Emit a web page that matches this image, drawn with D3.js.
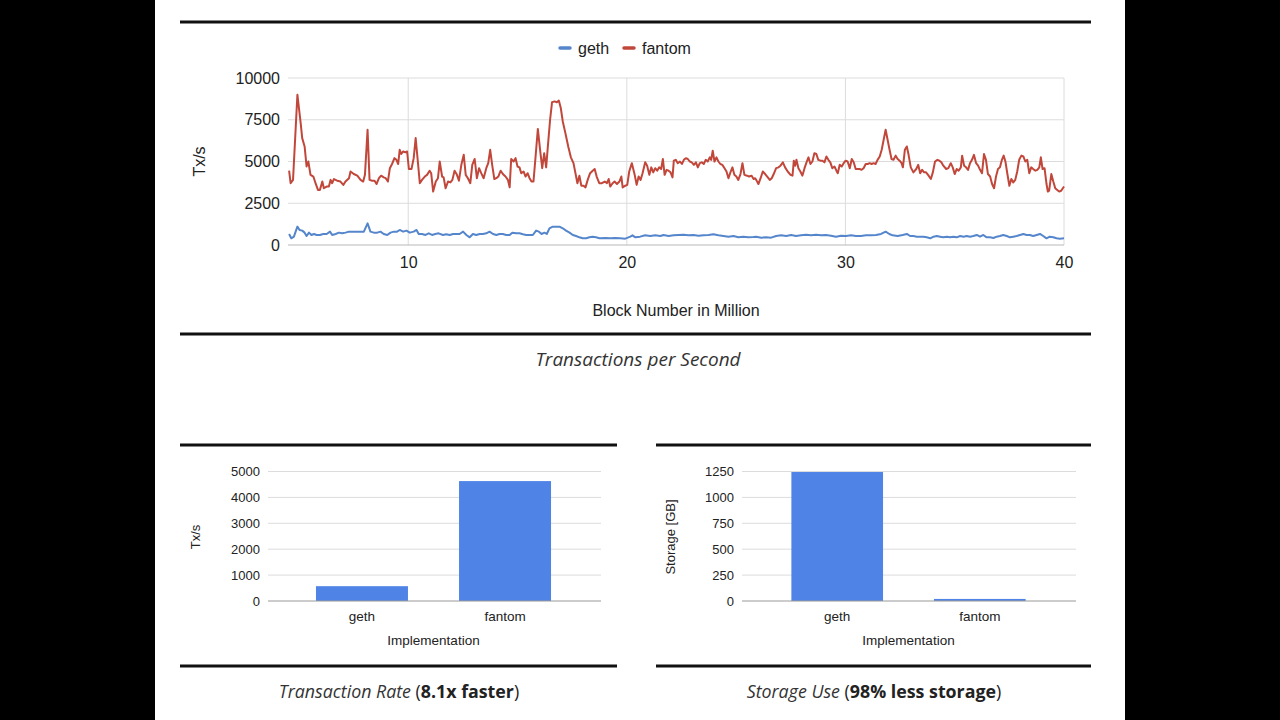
<!DOCTYPE html>
<html>
<head>
<meta charset="utf-8">
<script src="https://cdn.jsdelivr.net/npm/d3@7"></script>
<style>
  html, body { margin: 0; padding: 0; background: #000; }
  svg { display: block; }
</style>
</head>
<body>
<svg id="chart" width="1280" height="720"></svg>
<script>
// ---------------- DATA ----------------
const seriesNames = ["geth", "fantom"];
const xTicks = [10, 20, 30, 40];
const yTicksTop = [0, 2500, 5000, 7500, 10000];

// [block number in million, Tx/s]
const gethTx = [
[4.55,660],[4.65,400],[4.77,500],[4.93,1100],[5.03,900],[5.15,860],[5.26,740],[5.35,540],[5.46,740],[5.57,600],[5.69,660],[5.81,600],[5.96,600],[6.11,660],[6.27,660],[6.42,800],[6.52,600],[6.68,660],[6.83,740],[6.98,700],[7.13,740],[7.29,800],[7.51,800],[7.74,800],[7.97,800],[8.14,1300],[8.27,800],[8.43,740],[8.58,740],[8.73,800],[8.88,660],[9.04,600],[9.19,740],[9.34,800],[9.49,800],[9.61,900],[9.77,800],[9.92,860],[10.07,740],[10.25,800],[10.38,900],[10.48,660],[10.63,660],[10.79,600],[10.94,700],[11.09,600],[11.24,660],[11.39,700],
[11.59,600],[11.74,640],[11.90,600],[12.05,660],[12.20,660],[12.35,660],[12.51,800],[12.66,600],[12.81,460],[12.96,660],[13.11,600],[13.27,660],[13.42,660],[13.57,700],[13.72,800],[13.88,660],[14.03,600],[14.18,660],[14.33,660],[14.48,600],[14.64,600],[14.76,740],[14.94,700],[15.09,700],[15.25,640],[15.40,600],[15.55,600],[15.70,600],[15.85,860],[15.98,800],[16.10,660],[16.23,740],[16.34,660],[16.46,1000],[16.61,1100],[16.77,1100],[16.92,1100],[17.07,1000],[17.22,860],[17.38,740],[17.53,600],[17.68,540],[17.83,460],[17.98,400],[18.14,400],[18.29,460],[18.44,500],[18.59,460],[18.75,400],
[19.02,420],[19.24,400],[19.47,420],[19.70,400],[19.93,380],[20.16,500],[20.26,580],[20.39,460],[20.61,500],[20.84,580],[21.07,540],[21.30,580],[21.53,540],[21.68,600],[21.91,540],[22.14,580],[22.37,600],[22.59,620],[22.82,580],[23.05,600],[23.28,560],[23.51,580],[23.74,600],[23.96,640],[24.19,580],[24.42,540],[24.65,500],[24.88,540],[25.10,460],[25.33,500],[25.56,460],[25.79,480],
[25.92,500],[26.15,440],[26.37,460],[26.60,440],[26.83,540],[27.06,580],[27.29,540],[27.52,600],[27.74,540],[27.97,580],[28.20,620],[28.43,580],[28.66,620],[28.89,580],[29.11,600],[29.34,560],[29.57,500],[29.80,560],[30.03,540],[30.26,580],[30.48,540],[30.71,540],[30.94,580],[31.17,580],[31.40,600],[31.63,660],[31.84,800],[32.01,660],[32.16,580],[32.39,540],[32.62,600],
[32.81,660],[32.96,540],[33.11,540],[33.27,500],[33.42,500],[33.57,500],[33.72,460],[33.88,400],[34.03,500],[34.18,540],[34.33,500],[34.48,460],[34.64,500],[34.79,460],[34.94,500],[35.09,460],[35.25,540],[35.40,500],[35.55,540],[35.70,500],[35.85,540],[36.01,600],[36.16,500],[36.31,600],[36.46,460],[36.62,460],[36.77,420],[36.92,500],[37.07,540],[37.22,600],[37.38,540],[37.53,460],[37.68,500],[37.83,540],[37.99,600],[38.14,660],[38.29,600],[38.44,600],[38.59,540],[38.75,600],[38.90,660],[39.05,540],[39.20,400],[39.35,500],[39.51,460],[39.66,400],[39.81,380],[40.00,400]
];

const fantomTx = [
[4.55,4460],[4.62,3700],[4.73,3900],[4.93,9000],[5.08,7300],[5.15,6400],[5.26,5900],[5.35,4700],[5.43,5000],[5.53,4200],[5.66,4100],[5.76,3700],[5.87,3300],[5.96,3300],[6.07,3800],[6.14,3400],[6.27,3500],[6.37,3500],[6.45,3900],[6.52,3700],[6.60,3950],[6.75,3850],[6.90,3800],[7.03,3600],[7.13,3800],[7.29,4000],[7.36,4400],[7.51,4250],[7.67,4150],[7.82,3900],[7.94,3800],[8.02,4200],[8.14,6900],[8.23,3900],[8.35,3850],[8.46,3850],[8.55,3650],[8.66,4000],[8.76,4150],[8.88,4050],[8.97,4000],[9.07,3800],[9.16,4600],[9.26,4850],[9.37,5200],[9.46,5100],[9.54,4850],[9.61,5700],[9.68,5450],[9.77,5600],[9.87,5550],[9.95,5600],[10.03,4550],[10.15,4550],[10.25,5200],[10.34,6400],[10.44,5000],[10.53,3700],[10.63,3900],[10.76,4100],[10.86,4200],[10.98,4450],[11.05,4300],[11.14,3200],[11.26,3800],[11.36,4000],[11.44,5000],[11.55,4100],[11.62,4050],
[11.71,3400],[11.82,3800],[11.93,3750],[12.02,3900],[12.12,4450],[12.23,4200],[12.32,3850],[12.43,4800],[12.54,5400],[12.63,4200],[12.73,4000],[12.84,3700],[12.93,4800],[13.04,5150],[13.14,4000],[13.24,4600],[13.34,4300],[13.45,4000],[13.57,4600],[13.66,4900],[13.75,5700],[13.84,4800],[13.94,3950],[14.03,4000],[14.12,4100],[14.23,4450],[14.33,4250],[14.45,4100],[14.56,3900],[14.64,3450],[14.71,5150],[14.82,5000],[14.91,5200],[15.00,4700],[15.09,4650],[15.17,4300],[15.28,4400],[15.37,4100],[15.46,4300],[15.55,4000],[15.64,3800],[15.73,3800],[15.82,5200],[15.93,6950],[16.04,5600],[16.13,4600],[16.22,5500],[16.31,4650],[16.40,6100],[16.49,7500],[16.58,8550],[16.69,8600],[16.80,8550],[16.89,8650],[16.98,8200],[17.07,7400],[17.19,6700],[17.32,5900],[17.44,5250],[17.56,4900],[17.68,4100],[17.74,3700],[17.83,4150],[17.92,3550],[18.02,3550],[18.11,3450],[18.21,3900],[18.32,4300],[18.44,4450],[18.53,4550],[18.62,4100],[18.74,3700],
[18.86,3700],[18.99,3800],[19.09,3700],[19.17,3950],[19.24,3500],[19.35,3700],[19.44,3800],[19.55,3650],[19.66,3800],[19.75,4100],[19.81,3450],[19.93,3550],[20.02,3600],[20.11,4400],[20.23,4900],[20.36,4200],[20.45,3600],[20.54,4100],[20.63,3900],[20.72,4300],[20.84,4950],[20.93,4750],[21.03,4200],[21.12,4650],[21.21,4350],[21.30,4600],[21.39,4450],[21.48,4650],[21.57,4550],[21.65,5150],[21.73,4200],[21.82,4500],[21.91,4450],[22.00,4350],[22.09,4050],[22.15,5050],[22.24,5100],[22.33,4900],[22.43,5000],[22.52,4850],[22.61,5100],[22.70,5200],[22.79,5150],[22.88,5000],[22.97,4950],[23.07,4800],[23.16,4950],[23.25,4650],[23.34,4900],[23.43,4950],[23.52,4850],[23.61,5100],[23.70,5000],[23.80,5250],[23.86,5100],[23.93,5650],[24.01,5000],[24.10,5250],[24.19,5000],[24.28,4850],[24.37,4800],[24.47,4600],[24.56,4400],[24.65,4000],[24.74,4350],[24.83,4650],[24.92,4200],[25.01,4100],[25.10,3900],[25.20,4250],[25.29,4900],[25.38,4200],[25.50,4150],[25.59,4100],[25.71,4150],[25.80,3950],[25.87,4000],
[25.92,3900],[26.02,3650],[26.12,4000],[26.22,4400],[26.33,4250],[26.45,4050],[26.54,3900],[26.63,4000],[26.72,4250],[26.83,4600],[26.94,4650],[27.03,4750],[27.14,4950],[27.24,4650],[27.36,4400],[27.49,4200],[27.58,4150],[27.64,5050],[27.70,4750],[27.76,5100],[27.85,4600],[27.94,4400],[28.03,4150],[28.13,4600],[28.22,4950],[28.31,5250],[28.40,4850],[28.49,5000],[28.58,5500],[28.67,5450],[28.76,5100],[28.86,5050],[28.95,5050],[29.04,4950],[29.13,5300],[29.22,5100],[29.31,4950],[29.40,4600],[29.50,4700],[29.59,4450],[29.65,4300],[29.74,4800],[29.83,4700],[29.92,4900],[30.01,5050],[30.10,5000],[30.20,4600],[30.29,5150],[30.38,4950],[30.47,4550],[30.56,4550],[30.65,4550],[30.74,4500],[30.83,4600],[30.93,4850],[31.02,4850],[31.11,4900],[31.20,4850],[31.29,4900],[31.38,4850],[31.47,5100],[31.57,5300],[31.66,5700],[31.75,6300],[31.84,6900],[31.93,6300],[32.02,5700],[32.11,5150],[32.20,5100],[32.30,5350],[32.39,5150],[32.48,5050],[32.57,4900],[32.63,4650],[32.72,5700],[32.81,5900],
[32.89,5400],[32.99,4650],[33.11,4350],[33.24,4550],[33.33,4800],[33.42,4300],[33.51,4500],[33.60,4350],[33.69,4350],[33.78,4200],[33.91,3950],[34.00,4350],[34.10,5000],[34.21,5100],[34.30,5050],[34.39,4950],[34.48,4750],[34.61,4550],[34.71,4600],[34.82,4900],[34.91,4650],[35.00,4250],[35.09,4550],[35.18,4450],[35.28,4650],[35.34,5350],[35.43,4750],[35.52,4650],[35.61,4500],[35.70,4900],[35.79,5100],[35.88,5400],[35.98,4900],[36.07,4750],[36.16,4500],[36.25,4300],[36.34,5450],[36.43,5100],[36.52,4250],[36.62,4100],[36.71,3650],[36.80,3400],[36.89,4100],[36.98,4550],[37.07,4650],[37.16,5100],[37.24,5350],[37.32,5000],[37.41,4250],[37.50,3550],[37.59,3950],[37.68,3750],[37.77,3900],[37.86,4400],[37.95,5100],[38.05,5350],[38.14,5300],[38.23,5000],[38.32,5100],[38.41,4300],[38.50,4650],[38.59,4550],[38.69,4450],[38.78,4500],[38.87,4650],[38.94,5250],[39.02,4550],[39.11,4600],[39.20,3650],[39.26,3200],[39.32,3250],[39.42,4250],[39.51,3800],[39.60,3400],[39.69,3300],[39.78,3200],[39.87,3250],[40.00,3500]
];

const implementations = ["geth", "fantom"];
const rateValues = [572, 4630];
const rateTicks = [0, 1000, 2000, 3000, 4000, 5000];
const storageValues = [1245, 20];
const storageTicks = [0, 250, 500, 750, 1000, 1250];

// ---------------- STYLE ----------------
const COL_GETH = "#5586cc";
const COL_FANTOM = "#c2473b";
const COL_BAR = "#4f84e6";
const GRID = "#dcdcdc";
const TXT = "#222";
const AX_FONT = "Liberation Sans, Arial, sans-serif";
const CAP_FONT = "'Open Sans', Lato, sans-serif";
const fmt = d3.format("d");

const svg = d3.select("#chart");
svg.append("rect").attr("x", 0).attr("y", 0).attr("width", 1280).attr("height", 720).attr("fill", "#000");
svg.append("rect").attr("x", 155).attr("y", 0).attr("width", 970).attr("height", 720).attr("fill", "#fff");

function rule(x1, x2, yy) {
  svg.append("line").attr("x1", x1).attr("x2", x2).attr("y1", yy).attr("y2", yy)
    .attr("stroke", "#111").attr("stroke-width", 3);
}

// ---------------- TOP LINE CHART ----------------
rule(180, 1091, 22);
rule(180, 1091, 334);

const xScale = d3.scaleLinear().domain([4.5, 40]).range([288, 1064]);
const yScale = d3.scaleLinear().domain([0, 10000]).range([245, 78]);

const topG = svg.append("g");
topG.selectAll("line.hg").data(yTicksTop.filter(d => d > 0)).join("line")
  .attr("x1", xScale.range()[0]).attr("x2", xScale.range()[1])
  .attr("y1", d => yScale(d)).attr("y2", d => yScale(d))
  .attr("stroke", GRID).attr("stroke-width", 1);
topG.selectAll("line.vg").data(xTicks).join("line")
  .attr("x1", d => xScale(d)).attr("x2", d => xScale(d))
  .attr("y1", yScale(10000)).attr("y2", yScale(0))
  .attr("stroke", GRID).attr("stroke-width", 1);
topG.append("line").attr("x1", xScale.range()[0]).attr("x2", xScale.range()[1])
  .attr("y1", yScale(0)).attr("y2", yScale(0)).attr("stroke", "#b8b8b8").attr("stroke-width", 1);

topG.append("g").attr("transform", `translate(${xScale.range()[0]},0)`)
  .call(d3.axisLeft(yScale).tickValues(yTicksTop).tickFormat(fmt).tickSize(0).tickPadding(8))
  .call(g => g.select(".domain").remove())
  .selectAll("text").attr("font-family", AX_FONT).attr("font-size", 16).attr("fill", TXT);
topG.append("g").attr("transform", `translate(0,${yScale(0)})`)
  .call(d3.axisBottom(xScale).tickValues(xTicks).tickFormat(fmt).tickSize(0).tickPadding(12))
  .call(g => g.select(".domain").remove())
  .selectAll("text").attr("font-family", AX_FONT).attr("font-size", 16).attr("fill", TXT);

const lineGen = d3.line().x(d => xScale(d[0])).y(d => yScale(d[1]));
topG.append("path").datum(gethTx).attr("d", lineGen).attr("fill", "none")
  .attr("stroke", COL_GETH).attr("stroke-width", 2).attr("stroke-linejoin", "round");
topG.append("path").datum(fantomTx).attr("d", lineGen).attr("fill", "none")
  .attr("stroke", COL_FANTOM).attr("stroke-width", 2).attr("stroke-linejoin", "round");

topG.append("text").attr("transform", `translate(205,${(yScale(0) + yScale(10000)) / 2}) rotate(-90)`)
  .attr("text-anchor", "middle").attr("font-family", AX_FONT).attr("font-size", 16).attr("fill", TXT)
  .text("Tx/s");
topG.append("text").attr("x", (xScale.range()[0] + xScale.range()[1]) / 2).attr("y", 316)
  .attr("text-anchor", "middle").attr("font-family", AX_FONT).attr("font-size", 16).attr("fill", TXT)
  .text("Block Number in Million");

const legendItems = [
  { name: seriesNames[0], color: COL_GETH, x: 560 },
  { name: seriesNames[1], color: COL_FANTOM, x: 624 }
];
legendItems.forEach(it => {
  topG.append("line").attr("x1", it.x).attr("x2", it.x + 10).attr("y1", 48).attr("y2", 48)
    .attr("stroke", it.color).attr("stroke-width", 3.5).attr("stroke-linecap", "round");
  topG.append("text").attr("x", it.x + 18).attr("y", 54)
    .attr("font-family", AX_FONT).attr("font-size", 16).attr("fill", TXT).text(it.name);
});

svg.append("text").attr("x", 638).attr("y", 366).attr("text-anchor", "middle")
  .attr("font-family", CAP_FONT).attr("font-style", "italic").attr("font-size", 19)
  .attr("fill", "#333").text("Transactions per Second");

// ---------------- BAR CHARTS ----------------
function barChart(opts) {
  const g = svg.append("g");
  rule(opts.x0, opts.x1, 445);
  rule(opts.x0, opts.x1, 666);
  const yb = d3.scaleLinear().domain([0, opts.ticks[opts.ticks.length - 1]]).range([601, 471.5]);
  const xb = d3.scaleBand().domain(implementations).range(opts.bandRange)
    .paddingInner(0.357).paddingOuter(0.178);
  g.selectAll("line.grid").data(opts.ticks.filter(d => d > 0)).join("line")
    .attr("x1", opts.gridX[0]).attr("x2", opts.gridX[1])
    .attr("y1", d => yb(d)).attr("y2", d => yb(d))
    .attr("stroke", GRID).attr("stroke-width", 1);
  g.selectAll("rect.bar").data(opts.values).join("rect")
    .attr("x", (d, i) => xb(implementations[i])).attr("width", xb.bandwidth())
    .attr("y", d => yb(d)).attr("height", d => yb(0) - yb(d))
    .attr("fill", COL_BAR);
  g.append("line").attr("x1", opts.gridX[0]).attr("x2", opts.gridX[1])
    .attr("y1", yb(0)).attr("y2", yb(0)).attr("stroke", "#999").attr("stroke-width", 1);
  g.append("g").attr("transform", `translate(${opts.gridX[0]},0)`)
    .call(d3.axisLeft(yb).tickValues(opts.ticks).tickFormat(fmt).tickSize(0).tickPadding(8))
    .call(a => a.select(".domain").remove())
    .selectAll("text").attr("font-family", AX_FONT).attr("font-size", 13).attr("fill", TXT);
  g.append("g").attr("transform", `translate(0,${yb(0)})`)
    .call(d3.axisBottom(xb).tickSize(0).tickPadding(10))
    .call(a => a.select(".domain").remove())
    .selectAll("text").attr("font-family", AX_FONT).attr("font-size", 13.5).attr("fill", TXT);
  g.append("text").attr("x", (opts.bandRange[0] + opts.bandRange[1]) / 2).attr("y", 645)
    .attr("text-anchor", "middle").attr("font-family", AX_FONT).attr("font-size", 13.5).attr("fill", TXT)
    .text("Implementation");
  g.append("text").attr("transform", `translate(${opts.yTitleX},537) rotate(-90)`)
    .attr("text-anchor", "middle").attr("font-family", AX_FONT).attr("font-size", 13).attr("fill", TXT)
    .text(opts.yTitle);
  const cap = svg.append("text").attr("x", opts.capX).attr("y", 698).attr("text-anchor", "middle")
    .attr("font-family", CAP_FONT).attr("font-size", 17.8).attr("fill", "#222");
  cap.append("tspan").attr("font-style", "italic").attr("fill", "#333").text(opts.capItalic + " ");
  cap.append("tspan").text("(");
  cap.append("tspan").attr("font-weight", "bold").text(opts.capBold);
  cap.append("tspan").text(")");
}

barChart({
  x0: 180, x1: 617, gridX: [268, 601], bandRange: [290.5, 576.5],
  values: rateValues, ticks: rateTicks, yTitle: "Tx/s", yTitleX: 200,
  capX: 399, capItalic: "Transaction Rate", capBold: "8.1x faster"
});
barChart({
  x0: 656, x1: 1091, gridX: [742, 1076], bandRange: [766, 1051],
  values: storageValues, ticks: storageTicks, yTitle: "Storage [GB]", yTitleX: 675,
  capX: 874, capItalic: "Storage Use", capBold: "98% less storage"
});
</script>
</body>
</html>
